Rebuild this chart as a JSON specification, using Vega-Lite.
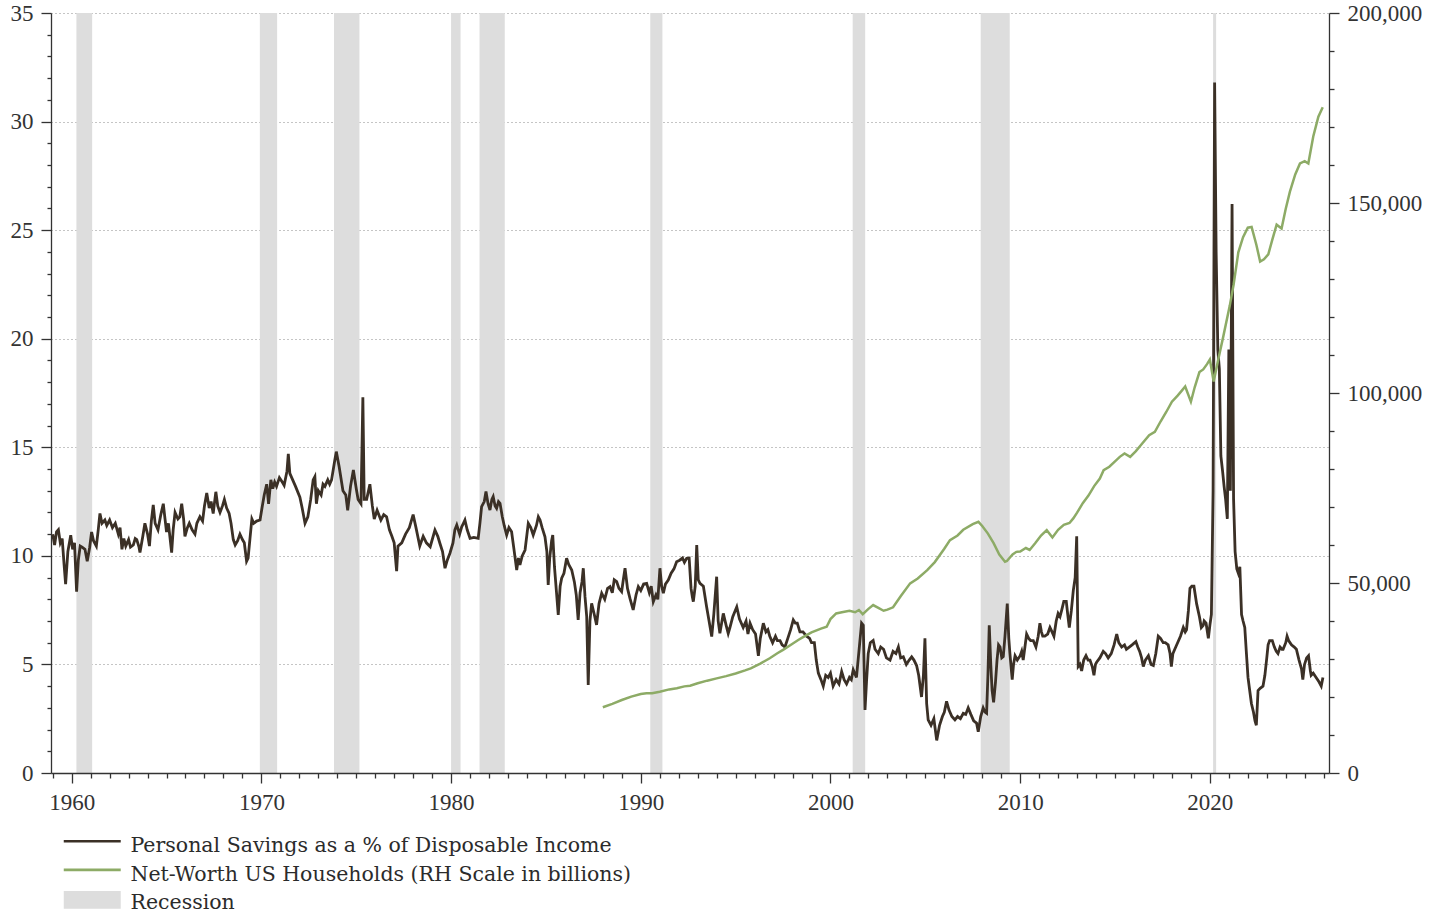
{
  "$schema": "https://vega.github.io/schema/vega-lite/v6.json",
  "width": 1278,
  "height": 760,
  "autosize": "none",
  "padding": {"left": 51, "top": 13, "right": 108, "bottom": 140},
  "background": "white",
  "config": {"view": {"stroke": null}, "font": "Liberation Serif"},
  "datasets": {
    "recessions": [
      {"t": 1960.25, "t2": 1961.08},
      {"t": 1969.92, "t2": 1970.83},
      {"t": 1973.83, "t2": 1975.17},
      {"t": 1980.0, "t2": 1980.5},
      {"t": 1981.5, "t2": 1982.83},
      {"t": 1990.5, "t2": 1991.14},
      {"t": 2001.17, "t2": 2001.83},
      {"t": 2007.92, "t2": 2009.45},
      {"t": 2020.17, "t2": 2020.33}
    ],
    "savings": [
      {"t":1959.0,"v":11.0},{"t":1959.1,"v":10.5},{"t":1959.2,"v":11.1},{"t":1959.3,"v":11.2},{"t":1959.4,"v":10.6},{"t":1959.5,"v":10.8},{"t":1959.6,"v":9.6},{"t":1959.68,"v":8.7},{"t":1959.8,"v":10.2},{"t":1959.95,"v":10.95},
      {"t":1960.05,"v":10.3},{"t":1960.15,"v":10.6},{"t":1960.26,"v":8.35},{"t":1960.35,"v":9.8},{"t":1960.45,"v":10.45},{"t":1960.55,"v":10.4},{"t":1960.7,"v":10.3},{"t":1960.82,"v":9.75},{"t":1960.95,"v":10.4},
      {"t":1961.05,"v":11.1},{"t":1961.15,"v":10.7},{"t":1961.3,"v":10.45},{"t":1961.4,"v":11.2},{"t":1961.49,"v":11.95},{"t":1961.6,"v":11.5},{"t":1961.75,"v":11.65},{"t":1961.85,"v":11.4},
      {"t":1962.0,"v":11.65},{"t":1962.15,"v":11.3},{"t":1962.3,"v":11.5},{"t":1962.46,"v":11.0},{"t":1962.55,"v":11.3},{"t":1962.65,"v":10.3},{"t":1962.75,"v":10.8},{"t":1962.85,"v":10.45},
      {"t":1963.0,"v":10.75},{"t":1963.1,"v":10.4},{"t":1963.25,"v":10.5},{"t":1963.35,"v":10.8},{"t":1963.43,"v":10.75},{"t":1963.55,"v":10.4},{"t":1963.6,"v":10.15},{"t":1963.75,"v":10.9},{"t":1963.86,"v":11.5},
      {"t":1964.0,"v":11.0},{"t":1964.1,"v":10.45},{"t":1964.2,"v":11.6},{"t":1964.3,"v":12.35},{"t":1964.4,"v":11.5},{"t":1964.55,"v":11.2},{"t":1964.7,"v":11.9},{"t":1964.83,"v":12.4},{"t":1964.92,"v":11.7},
      {"t":1965.0,"v":11.1},{"t":1965.1,"v":11.5},{"t":1965.27,"v":10.15},{"t":1965.35,"v":11.2},{"t":1965.45,"v":12.0},{"t":1965.6,"v":11.7},{"t":1965.7,"v":11.8},{"t":1965.8,"v":12.4},{"t":1965.9,"v":11.7},{"t":1965.97,"v":10.9},
      {"t":1966.1,"v":11.3},{"t":1966.2,"v":11.5},{"t":1966.35,"v":11.2},{"t":1966.5,"v":11.0},{"t":1966.6,"v":11.5},{"t":1966.76,"v":11.8},{"t":1966.9,"v":11.6},
      {"t":1967.0,"v":12.3},{"t":1967.12,"v":12.9},{"t":1967.25,"v":12.2},{"t":1967.35,"v":12.5},{"t":1967.46,"v":11.95},{"t":1967.55,"v":12.6},{"t":1967.6,"v":12.95},{"t":1967.7,"v":12.3},{"t":1967.82,"v":12.0},{"t":1967.95,"v":12.3},
      {"t":1968.05,"v":12.6},{"t":1968.17,"v":12.2},{"t":1968.3,"v":11.95},{"t":1968.4,"v":11.5},{"t":1968.52,"v":10.75},{"t":1968.62,"v":10.5},{"t":1968.75,"v":10.7},{"t":1968.87,"v":11.0},
      {"t":1969.0,"v":10.75},{"t":1969.1,"v":10.6},{"t":1969.22,"v":9.75},{"t":1969.3,"v":9.9},{"t":1969.4,"v":10.8},{"t":1969.5,"v":11.7},{"t":1969.6,"v":11.5},{"t":1969.75,"v":11.6},{"t":1969.93,"v":11.65},
      {"t":1970.05,"v":12.3},{"t":1970.15,"v":12.8},{"t":1970.28,"v":13.3},{"t":1970.38,"v":12.4},{"t":1970.5,"v":13.5},{"t":1970.6,"v":13.1},{"t":1970.7,"v":13.4},{"t":1970.8,"v":13.2},{"t":1970.95,"v":13.6},
      {"t":1971.1,"v":13.4},{"t":1971.2,"v":13.25},{"t":1971.35,"v":13.9},{"t":1971.42,"v":14.7},{"t":1971.5,"v":13.8},{"t":1971.65,"v":13.5},{"t":1971.8,"v":13.2},
      {"t":1972.03,"v":12.7},{"t":1972.15,"v":12.2},{"t":1972.3,"v":11.5},{"t":1972.45,"v":11.8},{"t":1972.6,"v":12.6},{"t":1972.73,"v":13.5},{"t":1972.82,"v":13.65},{"t":1972.9,"v":12.4},
      {"t":1973.0,"v":13.0},{"t":1973.15,"v":12.8},{"t":1973.25,"v":13.3},{"t":1973.35,"v":13.2},{"t":1973.5,"v":13.5},{"t":1973.6,"v":13.3},{"t":1973.7,"v":13.5},{"t":1973.87,"v":14.4},{"t":1973.95,"v":14.8},
      {"t":1974.1,"v":14.1},{"t":1974.3,"v":13.0},{"t":1974.45,"v":12.8},{"t":1974.55,"v":12.1},{"t":1974.7,"v":13.2},{"t":1974.85,"v":13.95},
      {"t":1975.0,"v":13.1},{"t":1975.1,"v":12.6},{"t":1975.25,"v":12.4},{"t":1975.35,"v":17.3},{"t":1975.42,"v":12.6},{"t":1975.55,"v":12.6},{"t":1975.72,"v":13.3},{"t":1975.85,"v":12.3},{"t":1975.95,"v":11.7},
      {"t":1976.1,"v":12.1},{"t":1976.3,"v":11.65},{"t":1976.45,"v":11.9},{"t":1976.6,"v":11.8},{"t":1976.75,"v":11.2},{"t":1976.88,"v":10.9},
      {"t":1977.0,"v":10.6},{"t":1977.13,"v":9.3},{"t":1977.2,"v":10.45},{"t":1977.4,"v":10.6},{"t":1977.6,"v":11.0},{"t":1977.8,"v":11.3},
      {"t":1978.0,"v":11.9},{"t":1978.15,"v":11.3},{"t":1978.35,"v":10.45},{"t":1978.53,"v":10.9},{"t":1978.7,"v":10.6},{"t":1978.9,"v":10.42},
      {"t":1979.15,"v":11.19},{"t":1979.3,"v":10.9},{"t":1979.41,"v":10.58},{"t":1979.55,"v":10.2},{"t":1979.68,"v":9.43},{"t":1979.8,"v":9.8},{"t":1979.94,"v":10.12},
      {"t":1980.1,"v":10.6},{"t":1980.2,"v":11.2},{"t":1980.3,"v":11.42},{"t":1980.45,"v":11.0},{"t":1980.56,"v":11.34},{"t":1980.65,"v":11.5},{"t":1980.73,"v":11.65},{"t":1980.85,"v":11.2},
      {"t":1981.0,"v":10.81},{"t":1981.2,"v":10.85},{"t":1981.43,"v":10.81},{"t":1981.52,"v":11.5},{"t":1981.61,"v":12.27},{"t":1981.75,"v":12.5},{"t":1981.84,"v":12.96},{"t":1981.95,"v":12.4},
      {"t":1982.05,"v":12.11},{"t":1982.15,"v":12.6},{"t":1982.22,"v":12.73},{"t":1982.32,"v":12.3},{"t":1982.4,"v":12.19},{"t":1982.5,"v":12.5},{"t":1982.58,"v":12.42},{"t":1982.7,"v":11.8},{"t":1982.8,"v":11.4},{"t":1982.93,"v":10.96},
      {"t":1983.05,"v":11.3},{"t":1983.19,"v":11.11},{"t":1983.3,"v":10.4},{"t":1983.46,"v":9.35},{"t":1983.55,"v":9.9},{"t":1983.63,"v":9.58},{"t":1983.75,"v":10.0},{"t":1983.9,"v":10.27},
      {"t":1984.07,"v":11.5},{"t":1984.2,"v":11.3},{"t":1984.33,"v":10.96},{"t":1984.5,"v":11.4},{"t":1984.6,"v":11.8},{"t":1984.69,"v":11.65},{"t":1984.8,"v":11.3},{"t":1984.95,"v":10.88},
      {"t":1985.05,"v":10.2},{"t":1985.12,"v":8.66},{"t":1985.2,"v":9.9},{"t":1985.3,"v":10.7},{"t":1985.36,"v":10.96},{"t":1985.45,"v":9.5},{"t":1985.55,"v":8.4},{"t":1985.65,"v":7.28},{"t":1985.75,"v":8.6},{"t":1985.83,"v":8.97},{"t":1985.95,"v":9.2},
      {"t":1986.09,"v":9.89},{"t":1986.2,"v":9.6},{"t":1986.36,"v":9.35},{"t":1986.5,"v":8.8},{"t":1986.6,"v":8.2},{"t":1986.7,"v":7.05},{"t":1986.8,"v":8.3},{"t":1986.9,"v":8.8},{"t":1986.97,"v":9.43},
      {"t":1987.06,"v":8.12},{"t":1987.15,"v":7.2},{"t":1987.23,"v":4.05},{"t":1987.32,"v":7.0},{"t":1987.41,"v":7.81},{"t":1987.55,"v":7.3},{"t":1987.67,"v":6.82},{"t":1987.8,"v":7.8},{"t":1987.94,"v":8.28},
      {"t":1988.1,"v":8.0},{"t":1988.25,"v":8.5},{"t":1988.38,"v":8.58},{"t":1988.5,"v":8.3},{"t":1988.6,"v":8.9},{"t":1988.73,"v":8.81},{"t":1988.85,"v":8.5},{"t":1988.99,"v":8.35},
      {"t":1989.08,"v":8.9},{"t":1989.17,"v":9.43},{"t":1989.3,"v":8.5},{"t":1989.43,"v":8.04},{"t":1989.6,"v":7.51},{"t":1989.75,"v":8.2},{"t":1989.87,"v":8.58},
      {"t":1990.0,"v":8.4},{"t":1990.15,"v":8.7},{"t":1990.31,"v":8.73},{"t":1990.45,"v":8.3},{"t":1990.55,"v":8.6},{"t":1990.66,"v":7.89},{"t":1990.8,"v":8.2},{"t":1990.9,"v":8.0},
      {"t":1991.01,"v":9.43},{"t":1991.1,"v":8.6},{"t":1991.19,"v":8.28},{"t":1991.3,"v":8.7},{"t":1991.45,"v":8.89},{"t":1991.6,"v":9.2},{"t":1991.75,"v":9.4},{"t":1991.89,"v":9.73},
      {"t":1992.05,"v":9.8},{"t":1992.2,"v":9.9},{"t":1992.3,"v":9.7},{"t":1992.42,"v":9.89},{"t":1992.55,"v":9.9},{"t":1992.65,"v":8.5},{"t":1992.72,"v":8.1},{"t":1992.77,"v":7.89},{"t":1992.87,"v":8.6},{"t":1992.95,"v":10.5},
      {"t":1993.03,"v":8.9},{"t":1993.12,"v":8.73},{"t":1993.3,"v":8.6},{"t":1993.47,"v":7.66},{"t":1993.6,"v":7.0},{"t":1993.74,"v":6.28},{"t":1993.85,"v":7.3},
      {"t":1994.0,"v":9.04},{"t":1994.08,"v":7.0},{"t":1994.17,"v":6.43},{"t":1994.35,"v":7.35},{"t":1994.5,"v":6.8},{"t":1994.61,"v":6.43},{"t":1994.7,"v":6.7},{"t":1994.85,"v":7.2},
      {"t":1995.06,"v":7.65},{"t":1995.2,"v":7.1},{"t":1995.4,"v":6.7},{"t":1995.55,"v":7.0},{"t":1995.65,"v":6.4},{"t":1995.76,"v":6.9},{"t":1995.9,"v":6.6},
      {"t":1996.05,"v":6.4},{"t":1996.2,"v":5.4},{"t":1996.3,"v":6.2},{"t":1996.46,"v":6.9},{"t":1996.6,"v":6.5},{"t":1996.7,"v":6.6},{"t":1996.8,"v":6.3},{"t":1996.95,"v":6.0},
      {"t":1997.1,"v":6.3},{"t":1997.2,"v":6.1},{"t":1997.34,"v":6.1},{"t":1997.45,"v":5.9},{"t":1997.6,"v":5.8},{"t":1997.75,"v":6.2},{"t":1997.9,"v":6.6},
      {"t":1998.04,"v":7.05},{"t":1998.15,"v":6.9},{"t":1998.25,"v":6.9},{"t":1998.39,"v":6.5},{"t":1998.55,"v":6.5},{"t":1998.74,"v":6.3},{"t":1998.9,"v":6.2},
      {"t":1999.0,"v":6.0},{"t":1999.15,"v":6.0},{"t":1999.25,"v":5.2},{"t":1999.36,"v":4.6},{"t":1999.5,"v":4.3},{"t":1999.62,"v":4.0},{"t":1999.75,"v":4.5},{"t":1999.88,"v":4.4},
      {"t":2000.0,"v":4.6},{"t":2000.14,"v":4.0},{"t":2000.3,"v":4.3},{"t":2000.45,"v":4.1},{"t":2000.59,"v":4.67},{"t":2000.72,"v":4.3},{"t":2000.85,"v":4.1},
      {"t":2001.0,"v":4.4},{"t":2001.1,"v":4.3},{"t":2001.2,"v":4.75},{"t":2001.37,"v":4.4},{"t":2001.5,"v":5.6},{"t":2001.64,"v":6.9},{"t":2001.73,"v":6.8},{"t":2001.82,"v":2.9},{"t":2001.9,"v":4.2},{"t":2001.99,"v":5.5},
      {"t":2002.1,"v":6.0},{"t":2002.25,"v":6.1},{"t":2002.35,"v":5.7},{"t":2002.52,"v":5.5},{"t":2002.65,"v":5.8},{"t":2002.8,"v":5.7},{"t":2002.95,"v":5.3},
      {"t":2003.14,"v":5.2},{"t":2003.3,"v":5.6},{"t":2003.45,"v":5.5},{"t":2003.58,"v":5.8},{"t":2003.7,"v":5.3},{"t":2003.84,"v":5.35},
      {"t":2004.0,"v":5.0},{"t":2004.15,"v":5.2},{"t":2004.28,"v":5.35},{"t":2004.4,"v":5.2},{"t":2004.54,"v":4.95},{"t":2004.65,"v":4.5},{"t":2004.8,"v":3.5},{"t":2004.9,"v":4.5},{"t":2004.98,"v":6.2},
      {"t":2005.07,"v":3.2},{"t":2005.15,"v":2.45},{"t":2005.3,"v":2.2},{"t":2005.45,"v":2.5},{"t":2005.6,"v":1.5},{"t":2005.75,"v":2.2},{"t":2005.9,"v":2.6},
      {"t":2006.0,"v":2.8},{"t":2006.12,"v":3.3},{"t":2006.25,"v":2.9},{"t":2006.4,"v":2.6},{"t":2006.56,"v":2.45},{"t":2006.7,"v":2.6},{"t":2006.85,"v":2.5},
      {"t":2007.0,"v":2.75},{"t":2007.13,"v":2.7},{"t":2007.26,"v":3.0},{"t":2007.4,"v":2.7},{"t":2007.55,"v":2.4},{"t":2007.7,"v":2.3},{"t":2007.79,"v":1.9},{"t":2007.92,"v":2.6},
      {"t":2008.05,"v":3.0},{"t":2008.15,"v":2.8},{"t":2008.23,"v":2.75},{"t":2008.3,"v":4.5},{"t":2008.37,"v":6.8},{"t":2008.45,"v":5.0},{"t":2008.52,"v":3.8},{"t":2008.6,"v":3.25},{"t":2008.7,"v":4.2},{"t":2008.78,"v":5.2},{"t":2008.86,"v":5.9},{"t":2008.94,"v":5.8},
      {"t":2009.03,"v":5.3},{"t":2009.11,"v":5.36},{"t":2009.2,"v":6.3},{"t":2009.32,"v":7.8},{"t":2009.4,"v":6.2},{"t":2009.46,"v":5.5},{"t":2009.58,"v":4.3},{"t":2009.65,"v":5.0},{"t":2009.73,"v":5.4},{"t":2009.85,"v":5.2},
      {"t":2010.0,"v":5.4},{"t":2010.08,"v":5.6},{"t":2010.16,"v":5.2},{"t":2010.25,"v":5.8},{"t":2010.34,"v":6.4},{"t":2010.45,"v":6.2},{"t":2010.55,"v":6.1},{"t":2010.69,"v":6.1},{"t":2010.83,"v":5.8},{"t":2010.95,"v":6.3},
      {"t":2011.04,"v":6.9},{"t":2011.12,"v":6.5},{"t":2011.19,"v":6.3},{"t":2011.3,"v":6.3},{"t":2011.45,"v":6.4},{"t":2011.57,"v":6.7},{"t":2011.68,"v":6.5},{"t":2011.78,"v":6.3},{"t":2011.9,"v":7.0},
      {"t":2012.0,"v":7.35},{"t":2012.1,"v":7.2},{"t":2012.19,"v":7.5},{"t":2012.3,"v":7.9},{"t":2012.43,"v":7.9},{"t":2012.52,"v":7.2},{"t":2012.59,"v":6.7},{"t":2012.7,"v":7.5},{"t":2012.8,"v":8.4},{"t":2012.9,"v":9.0},{"t":2012.98,"v":10.9},
      {"t":2013.06,"v":4.9},{"t":2013.15,"v":5.0},{"t":2013.24,"v":4.7},{"t":2013.35,"v":5.2},{"t":2013.47,"v":5.4},{"t":2013.58,"v":5.2},{"t":2013.68,"v":5.2},{"t":2013.8,"v":4.9},{"t":2013.89,"v":4.5},{"t":2013.97,"v":5.0},
      {"t":2014.03,"v":5.1},{"t":2014.2,"v":5.3},{"t":2014.38,"v":5.6},{"t":2014.5,"v":5.5},{"t":2014.64,"v":5.3},{"t":2014.8,"v":5.5},{"t":2014.95,"v":5.9},
      {"t":2015.09,"v":6.4},{"t":2015.2,"v":6.0},{"t":2015.35,"v":5.8},{"t":2015.5,"v":5.9},{"t":2015.6,"v":5.7},{"t":2015.75,"v":5.8},{"t":2015.9,"v":5.9},
      {"t":2016.1,"v":6.05},{"t":2016.2,"v":5.8},{"t":2016.3,"v":5.6},{"t":2016.4,"v":5.3},{"t":2016.49,"v":4.9},{"t":2016.6,"v":5.2},{"t":2016.76,"v":5.4},{"t":2016.9,"v":5.0},
      {"t":2017.02,"v":4.95},{"t":2017.15,"v":5.5},{"t":2017.28,"v":6.3},{"t":2017.4,"v":6.2},{"t":2017.54,"v":6.0},{"t":2017.65,"v":6.0},{"t":2017.8,"v":5.9},{"t":2017.9,"v":5.5},{"t":2017.97,"v":4.9},
      {"t":2018.05,"v":5.5},{"t":2018.15,"v":5.7},{"t":2018.3,"v":6.0},{"t":2018.45,"v":6.3},{"t":2018.6,"v":6.7},{"t":2018.7,"v":6.5},{"t":2018.77,"v":6.6},{"t":2018.87,"v":7.5},{"t":2018.95,"v":8.5},
      {"t":2019.05,"v":8.6},{"t":2019.16,"v":8.6},{"t":2019.3,"v":7.8},{"t":2019.45,"v":7.2},{"t":2019.55,"v":6.7},{"t":2019.65,"v":6.8},{"t":2019.7,"v":7.0},{"t":2019.8,"v":6.9},{"t":2019.92,"v":6.2},
      {"t":2020.0,"v":6.8},{"t":2020.08,"v":7.3},{"t":2020.17,"v":13.0},{"t":2020.25,"v":31.8},{"t":2020.33,"v":24.0},{"t":2020.42,"v":19.5},{"t":2020.5,"v":18.6},{"t":2020.58,"v":14.6},{"t":2020.67,"v":13.9},{"t":2020.75,"v":13.2},{"t":2020.83,"v":12.6},{"t":2020.92,"v":11.7},
      {"t":2021.0,"v":19.5},{"t":2021.08,"v":13.0},{"t":2021.17,"v":26.2},{"t":2021.25,"v":12.6},{"t":2021.33,"v":10.2},{"t":2021.42,"v":9.4},{"t":2021.5,"v":9.2},{"t":2021.58,"v":9.5},{"t":2021.67,"v":7.3},{"t":2021.75,"v":7.0},{"t":2021.84,"v":6.7},{"t":2021.92,"v":5.6},
      {"t":2022.01,"v":4.4},{"t":2022.1,"v":3.8},{"t":2022.19,"v":3.2},{"t":2022.3,"v":2.8},{"t":2022.38,"v":2.4},{"t":2022.45,"v":2.2},{"t":2022.54,"v":3.8},{"t":2022.65,"v":3.9},{"t":2022.8,"v":4.0},{"t":2022.9,"v":4.5},
      {"t":2023.0,"v":5.3},{"t":2023.07,"v":5.9},{"t":2023.15,"v":6.1},{"t":2023.29,"v":6.1},{"t":2023.4,"v":5.8},{"t":2023.5,"v":5.6},{"t":2023.59,"v":5.5},{"t":2023.7,"v":5.8},{"t":2023.8,"v":5.7},{"t":2023.86,"v":5.7},
      {"t":2024.0,"v":6.0},{"t":2024.07,"v":6.3},{"t":2024.15,"v":6.1},{"t":2024.3,"v":5.9},{"t":2024.45,"v":5.8},{"t":2024.56,"v":5.7},{"t":2024.7,"v":5.2},{"t":2024.83,"v":4.8},{"t":2024.9,"v":4.3},{"t":2024.99,"v":5.0},
      {"t":2025.1,"v":5.3},{"t":2025.2,"v":5.4},{"t":2025.3,"v":4.7},{"t":2025.34,"v":4.5},{"t":2025.45,"v":4.6},{"t":2025.6,"v":4.4},{"t":2025.75,"v":4.2},{"t":2025.87,"v":4.0},{"t":2025.96,"v":4.4}
    ],
    "networth": [
      {"t":1988.0,"v":17300},{"t":1988.5,"v":18200},{"t":1989.0,"v":19200},{"t":1989.5,"v":20100},{"t":1990.0,"v":20800},{"t":1990.3,"v":21000},{"t":1990.6,"v":20970},
      {"t":1991.0,"v":21400},{"t":1991.5,"v":22000},{"t":1991.9,"v":22300},{"t":1992.3,"v":22800},{"t":1992.6,"v":22980},{"t":1993.0,"v":23600},{"t":1993.5,"v":24300},
      {"t":1994.0,"v":24900},{"t":1994.5,"v":25500},{"t":1995.0,"v":26200},{"t":1995.5,"v":27000},{"t":1995.8,"v":27550},{"t":1996.3,"v":28800},{"t":1996.8,"v":30200},
      {"t":1997.2,"v":31500},{"t":1997.5,"v":32400},{"t":1998.0,"v":34000},{"t":1998.3,"v":35000},{"t":1998.6,"v":35900},{"t":1999.0,"v":37000},{"t":1999.5,"v":38000},{"t":1999.8,"v":38500},
      {"t":2000.0,"v":40500},{"t":2000.3,"v":42000},{"t":2000.6,"v":42300},{"t":2001.0,"v":42700},{"t":2001.3,"v":42300},{"t":2001.5,"v":42900},{"t":2001.7,"v":41800},
      {"t":2002.0,"v":43200},{"t":2002.25,"v":44200},{"t":2002.5,"v":43500},{"t":2002.8,"v":42700},{"t":2003.0,"v":43000},{"t":2003.3,"v":43600},{"t":2003.7,"v":46500},
      {"t":2004.2,"v":49900},{"t":2004.6,"v":51200},{"t":2005.1,"v":53400},{"t":2005.5,"v":55500},{"t":2006.0,"v":59000},{"t":2006.3,"v":61300},{"t":2006.7,"v":62500},
      {"t":2007.0,"v":64000},{"t":2007.5,"v":65500},{"t":2007.8,"v":66100},{"t":2008.0,"v":65000},{"t":2008.3,"v":63000},{"t":2008.6,"v":60500},{"t":2008.9,"v":57500},
      {"t":2009.2,"v":55600},{"t":2009.3,"v":55800},{"t":2009.6,"v":57500},{"t":2009.8,"v":58200},{"t":2010.0,"v":58300},{"t":2010.3,"v":59200},{"t":2010.5,"v":58700},{"t":2010.8,"v":60500},
      {"t":2011.1,"v":62500},{"t":2011.4,"v":63900},{"t":2011.7,"v":62000},{"t":2012.0,"v":64000},{"t":2012.3,"v":65300},{"t":2012.6,"v":65800},{"t":2012.8,"v":67000},
      {"t":2013.0,"v":68500},{"t":2013.3,"v":71000},{"t":2013.6,"v":73000},{"t":2013.9,"v":75500},{"t":2014.2,"v":77500},{"t":2014.4,"v":79700},{"t":2014.7,"v":80600},
      {"t":2015.0,"v":82000},{"t":2015.25,"v":83200},{"t":2015.5,"v":84100},{"t":2015.8,"v":83200},{"t":2016.1,"v":84700},{"t":2016.4,"v":86500},{"t":2016.8,"v":88900},
      {"t":2017.1,"v":89800},{"t":2017.4,"v":92500},{"t":2017.7,"v":95000},{"t":2018.0,"v":97700},{"t":2018.3,"v":99300},{"t":2018.5,"v":100500},{"t":2018.7,"v":101700},
      {"t":2019.0,"v":97700},{"t":2019.2,"v":101500},{"t":2019.45,"v":105500},{"t":2019.65,"v":106200},{"t":2019.85,"v":107600},{"t":2020.0,"v":108800},{"t":2020.2,"v":103000},
      {"t":2020.45,"v":109000},{"t":2020.7,"v":114700},{"t":2021.05,"v":123000},{"t":2021.25,"v":128500},{"t":2021.5,"v":137000},{"t":2021.75,"v":141000},
      {"t":2022.0,"v":143500},{"t":2022.2,"v":143700},{"t":2022.45,"v":139000},{"t":2022.65,"v":134600},{"t":2022.85,"v":135200},{"t":2023.08,"v":136500},{"t":2023.3,"v":140500},
      {"t":2023.52,"v":144300},{"t":2023.78,"v":143300},{"t":2024.0,"v":148500},{"t":2024.22,"v":153000},{"t":2024.5,"v":157500},{"t":2024.75,"v":160400},
      {"t":2025.0,"v":161000},{"t":2025.19,"v":160400},{"t":2025.45,"v":167500},{"t":2025.72,"v":172700},{"t":2025.95,"v":175200}
    ]
  },
  "encoding": {
    "x": {
      "field": "t",
      "type": "quantitative",
      "scale": {"domain": [1958.91, 2026.28], "nice": false, "zero": false},
      "axis": {
        "title": null,
        "values": [1959,1960,1961,1962,1963,1964,1965,1966,1967,1968,1969,1970,1971,1972,1973,1974,1975,1976,1977,1978,1979,1980,1981,1982,1983,1984,1985,1986,1987,1988,1989,1990,1991,1992,1993,1994,1995,1996,1997,1998,1999,2000,2001,2002,2003,2004,2005,2006,2007,2008,2009,2010,2011,2012,2013,2014,2015,2016,2017,2018,2019,2020,2021,2022,2023,2024,2025,2026],
        "format": "d",
        "labelExpr": "datum.value % 10 === 0 ? datum.label : ''",
        "tickSize": {"condition": {"test": "datum.value % 10 === 0", "value": 10}, "value": 5},
        "tickColor": "#333333",
        "tickWidth": 1.3,
        "domainColor": "#333333",
        "domainWidth": 1.3,
        "labelFont": "Liberation Serif",
        "labelFontSize": 23,
        "labelColor": "#333333",
        "labelPadding": 8,
        "labelOverlap": false,
        "labelFlush": false,
        "grid": false,
        "zindex": 1
      }
    }
  },
  "layer": [
    {
      "data": {"name": "recessions"},
      "mark": {"type": "rect"},
      "encoding": {
        "x2": {"field": "t2"},
        "color": {
          "datum": "Recession",
          "type": "nominal",
          "scale": {
            "domain": ["Personal Savings as a % of Disposable Income", "Net-Worth US Households (RH Scale in billions)", "Recession"],
            "range": ["#3b3026", "#8dab66", "#dddddd"]
          },
          "legend": {
            "title": null,
            "orient": "none",
            "legendX": 31,
            "legendY": 818,
            "direction": "vertical",
            "padding": 0,
            "symbolSize": 121,
            "symbolStrokeWidth": 2.5,
            "labelFont": "DejaVu Serif",
            "labelFontSize": 20.5,
            "labelColor": "#2b2b2b",
            "labelLimit": 0,
            "labelOffset": 28,
            "rowPadding": 2.6,
            "encode": {
              "labels": {"update": {"dy": {"value": 5}}},
              "symbols": {
                "update": {
                  "shape": {"signal": "datum.value === 'Recession' ? 'M-5.18,-1.35H5.18V1.85H-5.18Z' : 'M-5.18,0H5.18'"},
                  "fill": {"signal": "datum.value === 'Recession' ? '#dddddd' : 'transparent'"},
                  "stroke": {"signal": "datum.value === 'Recession' ? 'transparent' : (indexof(datum.value, 'Personal') >= 0 ? '#3b3026' : '#8dab66')"},
                  "strokeWidth": {"signal": "datum.value === 'Recession' ? 0 : 2.6"},
                  "opacity": {"value": 1}
                }
              }
            }
          }
        }
      }
    },
    {
      "data": {"name": "savings"},
      "mark": {"type": "line", "strokeWidth": 2.8, "interpolate": "linear"},
      "encoding": {
        "y": {
          "field": "v",
          "type": "quantitative",
          "scale": {"domain": [0, 35], "nice": false},
          "axis": {
            "title": null,
            "orient": "left",
            "values": [0,1,2,3,4,5,6,7,8,9,10,11,12,13,14,15,16,17,18,19,20,21,22,23,24,25,26,27,28,29,30,31,32,33,34,35],
            "labelExpr": "datum.value % 5 === 0 ? datum.label : ''",
            "tickSize": {"condition": {"test": "datum.value % 5 === 0", "value": 10}, "value": 4},
            "tickColor": "#333333",
            "tickWidth": 1.3,
            "domainColor": "#333333",
            "domainWidth": 1.3,
            "labelFont": "Liberation Serif",
            "labelFontSize": 23,
            "labelColor": "#333333",
            "labelPadding": 8,
            "grid": true,
            "gridColor": "#8a8a8a",
            "gridDash": [1, 3],
            "gridWidth": 1,
            "gridOpacity": {"condition": {"test": "datum.value % 5 === 0 && datum.value > 0", "value": 1}, "value": 0}
          }
        },
        "color": {
          "datum": "Personal Savings as a % of Disposable Income",
          "type": "nominal"
        }
      }
    },
    {
      "data": {"name": "networth"},
      "mark": {"type": "line", "strokeWidth": 2.5, "interpolate": "linear"},
      "encoding": {
        "y": {
          "field": "v",
          "type": "quantitative",
          "scale": {"domain": [0, 200000], "nice": false},
          "axis": {
            "title": null,
            "orient": "right",
            "values": [0,10000,20000,30000,40000,50000,60000,70000,80000,90000,100000,110000,120000,130000,140000,150000,160000,170000,180000,190000,200000],
            "format": ",d",
            "labelExpr": "datum.value % 50000 === 0 ? datum.label : ''",
            "tickSize": {"condition": {"test": "datum.value % 50000 === 0", "value": 10}, "value": 5},
            "tickColor": "#333333",
            "tickWidth": 1.3,
            "domainColor": "#333333",
            "domainWidth": 1.3,
            "labelFont": "Liberation Serif",
            "labelFontSize": 23,
            "labelColor": "#333333",
            "labelPadding": 8,
            "grid": false
          }
        },
        "color": {
          "datum": "Net-Worth US Households (RH Scale in billions)",
          "type": "nominal"
        }
      }
    }
  ],
  "resolve": {"scale": {"y": "independent"}, "axis": {"y": "independent"}}
}
